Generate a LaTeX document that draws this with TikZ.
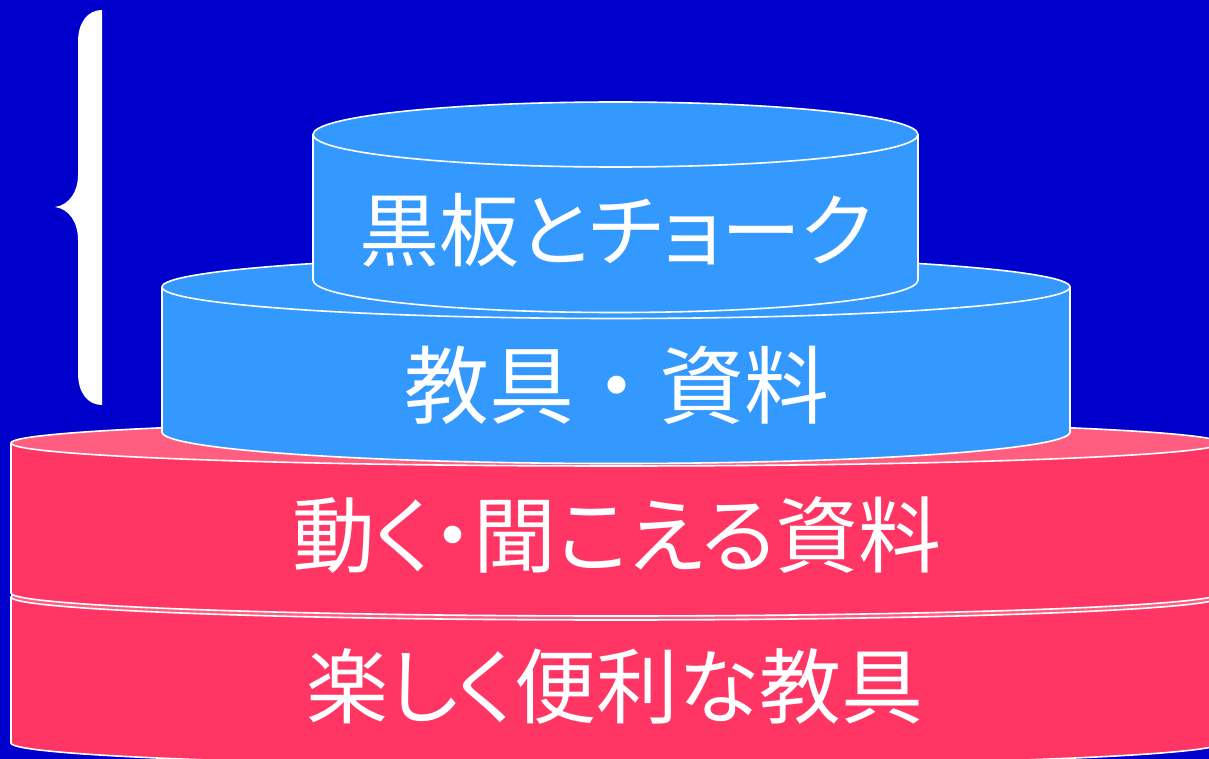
\documentclass[tikz,border=0pt]{standalone}
\usepackage{fontspec}
\newfontfamily\jp{Noto Sans CJK JP}[RawFeature=+palt]
\newfontfamily\jpfull{Noto Sans CJK JP}
\definecolor{bgblue}{RGB}{0,0,204}
\definecolor{cylblue}{RGB}{51,153,255}
\definecolor{cylred}{RGB}{255,54,99}
\definecolor{cylredtop}{RGB}{255,94,128}
\tikzset{
  edge/.style={draw=white, line width=1.6pt},
  lbl/.style={text=white, font=\jp\fontsize{80}{96}\selectfont, inner sep=0pt, anchor=center},
}
% cylinder: #1 cx, #2 rx, #3 top cy, #4 bottom cy, #5 ry, #6 side colour, #7 top colour
\newcommand{\mycyl}[7]{%
  \fill[#6] ({#1-#2},#3) -- ({#1-#2},#4) arc[start angle=180, end angle=0, x radius=#2, y radius=#5] -- ({#1+#2},#3) -- cycle;
  \draw[edge] ({#1-#2},#3) -- ({#1-#2},#4) arc[start angle=180, end angle=0, x radius=#2, y radius=#5] -- ({#1+#2},#3);
  \filldraw[edge, fill=#7] (#1,#3) ellipse[x radius=#2, y radius=#5];
}
\begin{document}
\begin{tikzpicture}[x=1pt, y=-1pt]
\useasboundingbox (0,0) rectangle (1209,759);
\clip (0,0) rectangle (1209,759);
\fill[bgblue] (0,0) rectangle (1209,759);
% brace
\fill[white] (102,10) -- (102,405) .. controls (88,405) and (78,393) .. (78,373)
  -- (78,240) .. controls (78,222) and (69,209) .. (55,207)
  .. controls (69,205) and (78,192) .. (78,175)
  -- (78,42) .. controls (78,22) and (88,10) .. (102,10) -- cycle;
% cylinders, bottom to top
\mycyl{616}{605}{597}{743}{23}{cylred}{cylredtop}
\mycyl{616}{605}{443}{593}{23}{cylred}{cylredtop}
\mycyl{616}{454}{287}{432}{31.5}{cylblue}{cylblue}
\mycyl{615.5}{302.5}{134.5}{280}{32.5}{cylblue}{cylblue}
% labels
\node[lbl] (t1) at (616,230) {黒板とチョーク};
\node[lbl, font=\jpfull\fontsize{85}{100}\selectfont] (t2) at (617,385) {教具・資料};
\node[lbl, font=\jp\fontsize{83}{100}\selectfont] (t3) at (617,535) {動く・聞こえる資料};
\node[lbl, font=\jp\fontsize{82}{100}\selectfont] (t4) at (615,686) {楽しく便利な教具};
\end{tikzpicture}
\end{document}
